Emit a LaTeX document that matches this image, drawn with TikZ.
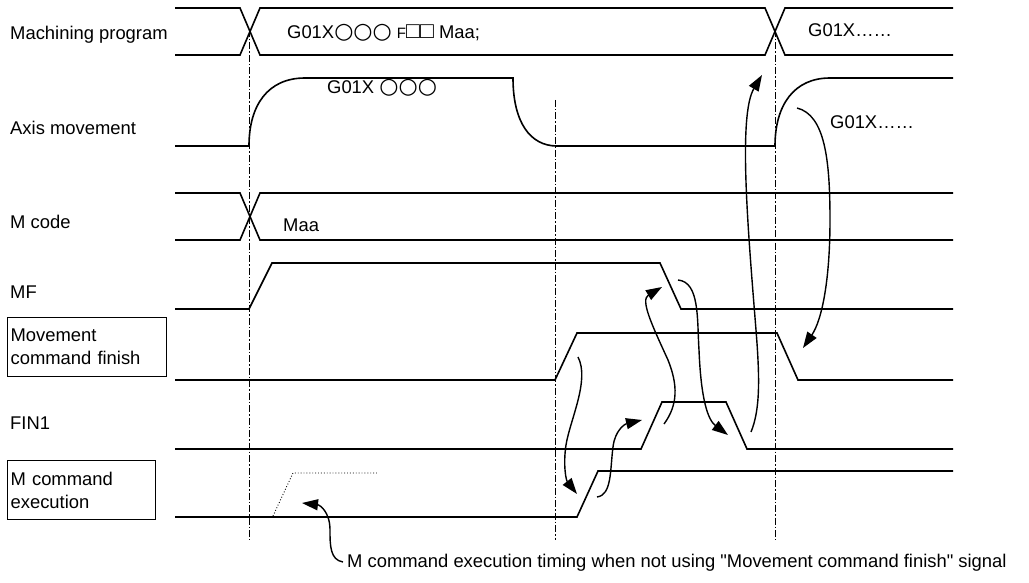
\documentclass[tikz,border=0pt]{standalone}
\usepackage{fontspec}
\setmainfont{Liberation Sans}
\newfontfamily\glyphfont{DejaVu Sans}
\usetikzlibrary{arrows.meta}
\newcommand{\rings}{{\glyphfont\fontsize{22}{22}\selectfont ○○○}}
\newcommand{\boxes}{{\fontsize{23}{23}\selectfont □□}}

\begin{document}
\begin{tikzpicture}[x=1pt,y=-1pt,every node/.style={font=\fontsize{18.4}{23}\selectfont},
  sig/.style={line width=1.6pt,line join=miter},
  guide/.style={line width=0.9pt,dash pattern=on 7pt off 2pt on 1.5pt off 2pt},
  cause/.style={line width=1.4pt,-{Triangle[length=16pt,width=11pt]}},
  lbl/.style={anchor=west,inner sep=0pt},
  namebox/.style={draw,line width=1.2pt,anchor=north west,inner sep=3pt,align=left,minimum height=59pt}]
\useasboundingbox (0,0) rectangle (1029,583);

% dash-dot time marks
\draw[guide] (249,30) -- (249,540);
\draw[guide] (555,100) -- (555,540);
\draw[guide] (775,30) -- (775,540);

% signal names
\node[lbl] (prog) at (10,35) {Machining program};
\node[lbl] (axis) at (10,128) {Axis movement};
\node[lbl] (mcode) at (10,222) {M code};
\node[lbl] (mf) at (10,292) {MF};
\node[namebox,text width=153pt] (mcf) at (7,317) {Movement\\command finish};
\node[lbl] (fin) at (10,423) {FIN1};
\node[namebox,text width=142pt] (mce) at (7,460) {M command\\execution};

% machining program
\draw[sig] (175,8) -- (240,8) -- (260,55) -- (765,55) -- (785,8) -- (953,8);
\draw[sig] (175,55) -- (240,55) -- (260,8) -- (765,8) -- (785,55) -- (953,55);
\node[lbl] (blk1) at (287,33) {G01X\rings\ {\fontsize{15}{15}\selectfont F}\boxes\ Maa;};
\node[lbl] (blk2) at (808,30) {G01X……};

% axis movement
\draw[sig] (175,146) -- (249,146) .. controls (249,105) and (268,78) .. (305,78) -- (513,78)
  .. controls (513,122) and (530,146) .. (557,146) -- (775,146)
  .. controls (775,105) and (794,78) .. (830,78) -- (953,78);
\node[lbl] (mov1) at (327,88) {G01X \rings};
\node[lbl] (mov2) at (830,122) {G01X……};

% M code
\draw[sig] (175,193) -- (240,193) -- (260,240) -- (953,240);
\draw[sig] (175,240) -- (240,240) -- (260,193) -- (953,193);
\node[lbl] (maa) at (283,225) {Maa};

% MF, movement command finish, FIN1, M command execution
\draw[sig] (175,309) -- (249,309) -- (272,263) -- (660,263) -- (681,309) -- (953,309);
\draw[sig] (175,380) -- (555,380) -- (577,333) -- (777,333) -- (798,380) -- (953,380);
\draw[sig] (175,449) -- (641,449) -- (662,402) -- (726,402) -- (747,449) -- (953,449);
\draw[sig] (175,517) -- (577,517) -- (598,471) -- (953,471);
\draw[line width=0.9pt,dotted] (273,516) -- (293,473) -- (378,473);

% sequence of handshakes
\coordinate (mcfUp) at (578,357);
\coordinate (mceIn) at (577,494);
\coordinate (mceUp) at (597,497);
\coordinate (finIn) at (642,420);
\coordinate (finUp) at (664,424);
\coordinate (mfIn) at (662,287);
\coordinate (mfDn) at (678,280);
\coordinate (finIn2) at (728,435);
\coordinate (finDn) at (751,432);
\coordinate (progIn) at (762,75);
\coordinate (axisUp) at (797,108);
\coordinate (mcfIn) at (803,348);
\draw[cause] (mcfUp) .. controls (590,380) and (570,420) .. (566,445) .. controls (563,465) and (566,480) .. (mceIn);
\draw[cause] (mceUp) .. controls (612,495) and (610,470) .. (613,447) .. controls (615,430) and (625,424) .. (finIn);
\draw[cause] (finUp) .. controls (678,405) and (678,385) .. (668,360) .. controls (652,325) and (640,300) .. (mfIn);
\draw[cause] (mfDn) .. controls (700,282) and (697,320) .. (699,350) .. controls (701,400) and (708,420) .. (finIn2);
\draw[cause] (finDn) .. controls (760,410) and (760,380) .. (756,330) .. controls (748,230) and (738,115) .. (progIn);
\draw[cause] (axisUp) .. controls (825,115) and (830,160) .. (830,220) .. controls (830,280) and (822,320) .. (mcfIn);

% note on the dotted timing
\node[lbl] (note) at (347,563) {M command execution timing when not using \textquotedbl Movement command finish\textquotedbl\ signal};
\coordinate (noteIn) at (302,503);
\draw[cause] (343,562) .. controls (330,560) and (330,545) .. (330,530) .. controls (330,512) and (320,505) .. (noteIn);
\end{tikzpicture}
\end{document}
